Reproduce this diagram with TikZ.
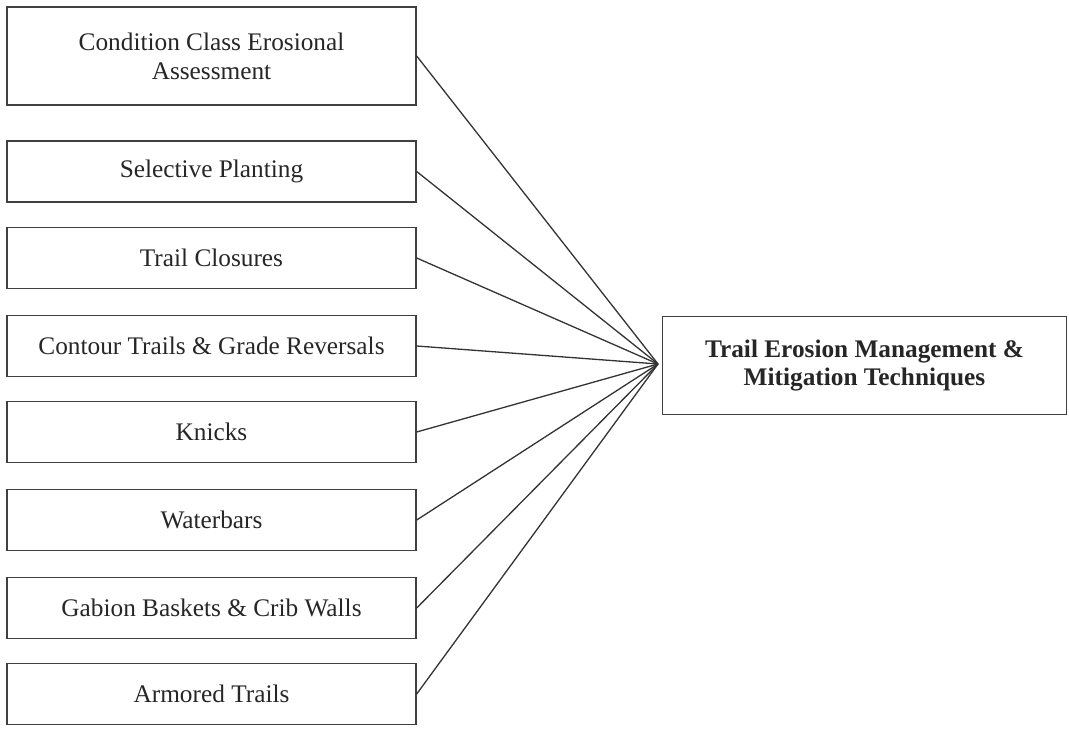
\documentclass[tikz,border=0pt]{standalone}
\usepackage{fontspec}
\setmainfont{Liberation Serif}
\begin{document}
\begin{tikzpicture}[x=1pt,y=-1pt,
  box/.style={draw=black!75, line width=1.4pt, rectangle, minimum width=409pt, inner sep=0pt,
    align=center, text=black!85, font=\fontsize{25.3}{29}\selectfont},
  link/.style={draw=black!80, line width=1.3pt}]
\useasboundingbox (0,0) rectangle (1069,730);
\node[box, minimum height=98pt] (b1) at (211.5,56) {Condition Class Erosional\\Assessment};
\node[box, minimum height=61pt] (b2) at (211.5,171.5) {Selective Planting};
\node[box, minimum height=61pt] (b3) at (211.5,258) {Trail Closures};
\node[box, minimum height=61pt] (b4) at (211.5,346) {Contour Trails \& Grade Reversals};
\node[box, minimum height=61pt] (b5) at (211.5,432) {Knicks};
\node[box, minimum height=61pt] (b6) at (211.5,520) {Waterbars};
\node[box, minimum height=61pt] (b7) at (211.5,608) {Gabion Baskets \& Crib Walls};
\node[box, minimum height=61pt] (b8) at (211.5,694) {Armored Trails};
\node[box, minimum width=404pt, minimum height=98pt, font=\fontsize{25.3}{28}\selectfont\bfseries] (t) at (864.5,365.5) {Trail Erosion Management \&\\Mitigation Techniques};
\coordinate (hub) at (658,364);
\foreach \i in {1,...,8} \draw[link] (b\i.east) -- (hub);
\end{tikzpicture}
\end{document}
